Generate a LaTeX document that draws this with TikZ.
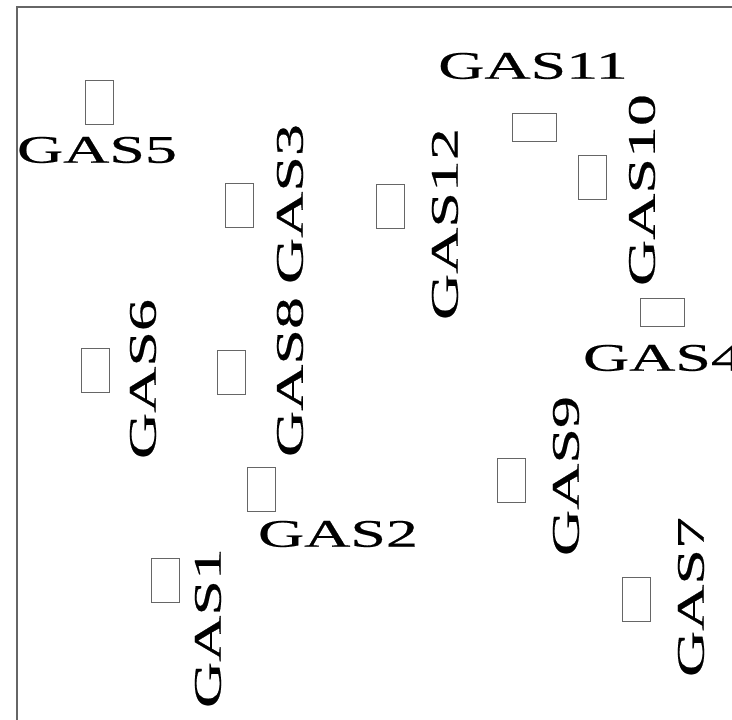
\documentclass[tikz,border=0pt]{standalone}
\usepackage{fontspec}
\usepackage{graphicx}
\setmainfont{Liberation Serif}
\newfontfamily\gasfont[FakeBold=0.4]{Liberation Serif}
\newcommand\gaslabel[1]{\scalebox{1.64}[1]{\gasfont\fontsize{39bp}{39bp}\selectfont #1}}
\tikzset{
  sensorv/.style={draw=black!60, line width=0.9pt, minimum width=28bp, minimum height=44bp, inner sep=0pt},
  sensorh/.style={draw=black!60, line width=0.9pt, minimum width=44bp, minimum height=28bp, inner sep=0pt},
  lab/.style={inner sep=0pt, outer sep=0pt},
  labv/.style={inner sep=0pt, outer sep=0pt, rotate=90}
}
\begin{document}
\begin{tikzpicture}[x=1bp,y=-1bp]
\useasboundingbox (0,0) rectangle (732,720);
\clip (0,0) rectangle (732,720);
\draw[black!60, line width=1.2pt] (17,760) -- (17,7) -- (760,7);
% sensor boxes
\node[sensorv] (b5) at (99,102) {};
\node[sensorv] (b3) at (239,205) {};
\node[sensorv] (b12) at (390,206) {};
\node[sensorh] (b11) at (534,127) {};
\node[sensorv] (b10) at (592.5,177.5) {};
\node[sensorh] (b4) at (662,312) {};
\node[sensorv] (b6) at (95.5,370.5) {};
\node[sensorv] (b8) at (231.5,372.5) {};
\node[sensorv] (b2) at (261.5,489.5) {};
\node[sensorv] (b1) at (165.5,580) {};
\node[sensorv] (b9) at (511.5,480) {};
\node[sensorv] (b7) at (636,599) {};
% labels
\node[lab] (t5) at (97,150) {\gaslabel{GAS5}};
\node[lab] (t11) at (533,66) {\gaslabel{GAS11}};
\node[lab] (t4) at (663,358) {\gaslabel{GAS4}};
\node[lab] (t2) at (338,534) {\gaslabel{GAS2}};
\node[labv] (t3) at (290,204) {\gaslabel{GAS3}};
\node[labv] (t8) at (290,377) {\gaslabel{GAS8}};
\node[labv] (t12) at (445,224) {\gaslabel{GAS12}};
\node[labv] (t10) at (642,190) {\gaslabel{GAS10}};
\node[labv] (t6) at (143,379) {\gaslabel{GAS6}};
\node[labv] (t1) at (208,628) {\gaslabel{GAS1}};
\node[labv] (t9) at (566,476) {\gaslabel{GAS9}};
\node[labv] (t7) at (691,597) {\gaslabel{GAS7}};
\end{tikzpicture}
\end{document}
